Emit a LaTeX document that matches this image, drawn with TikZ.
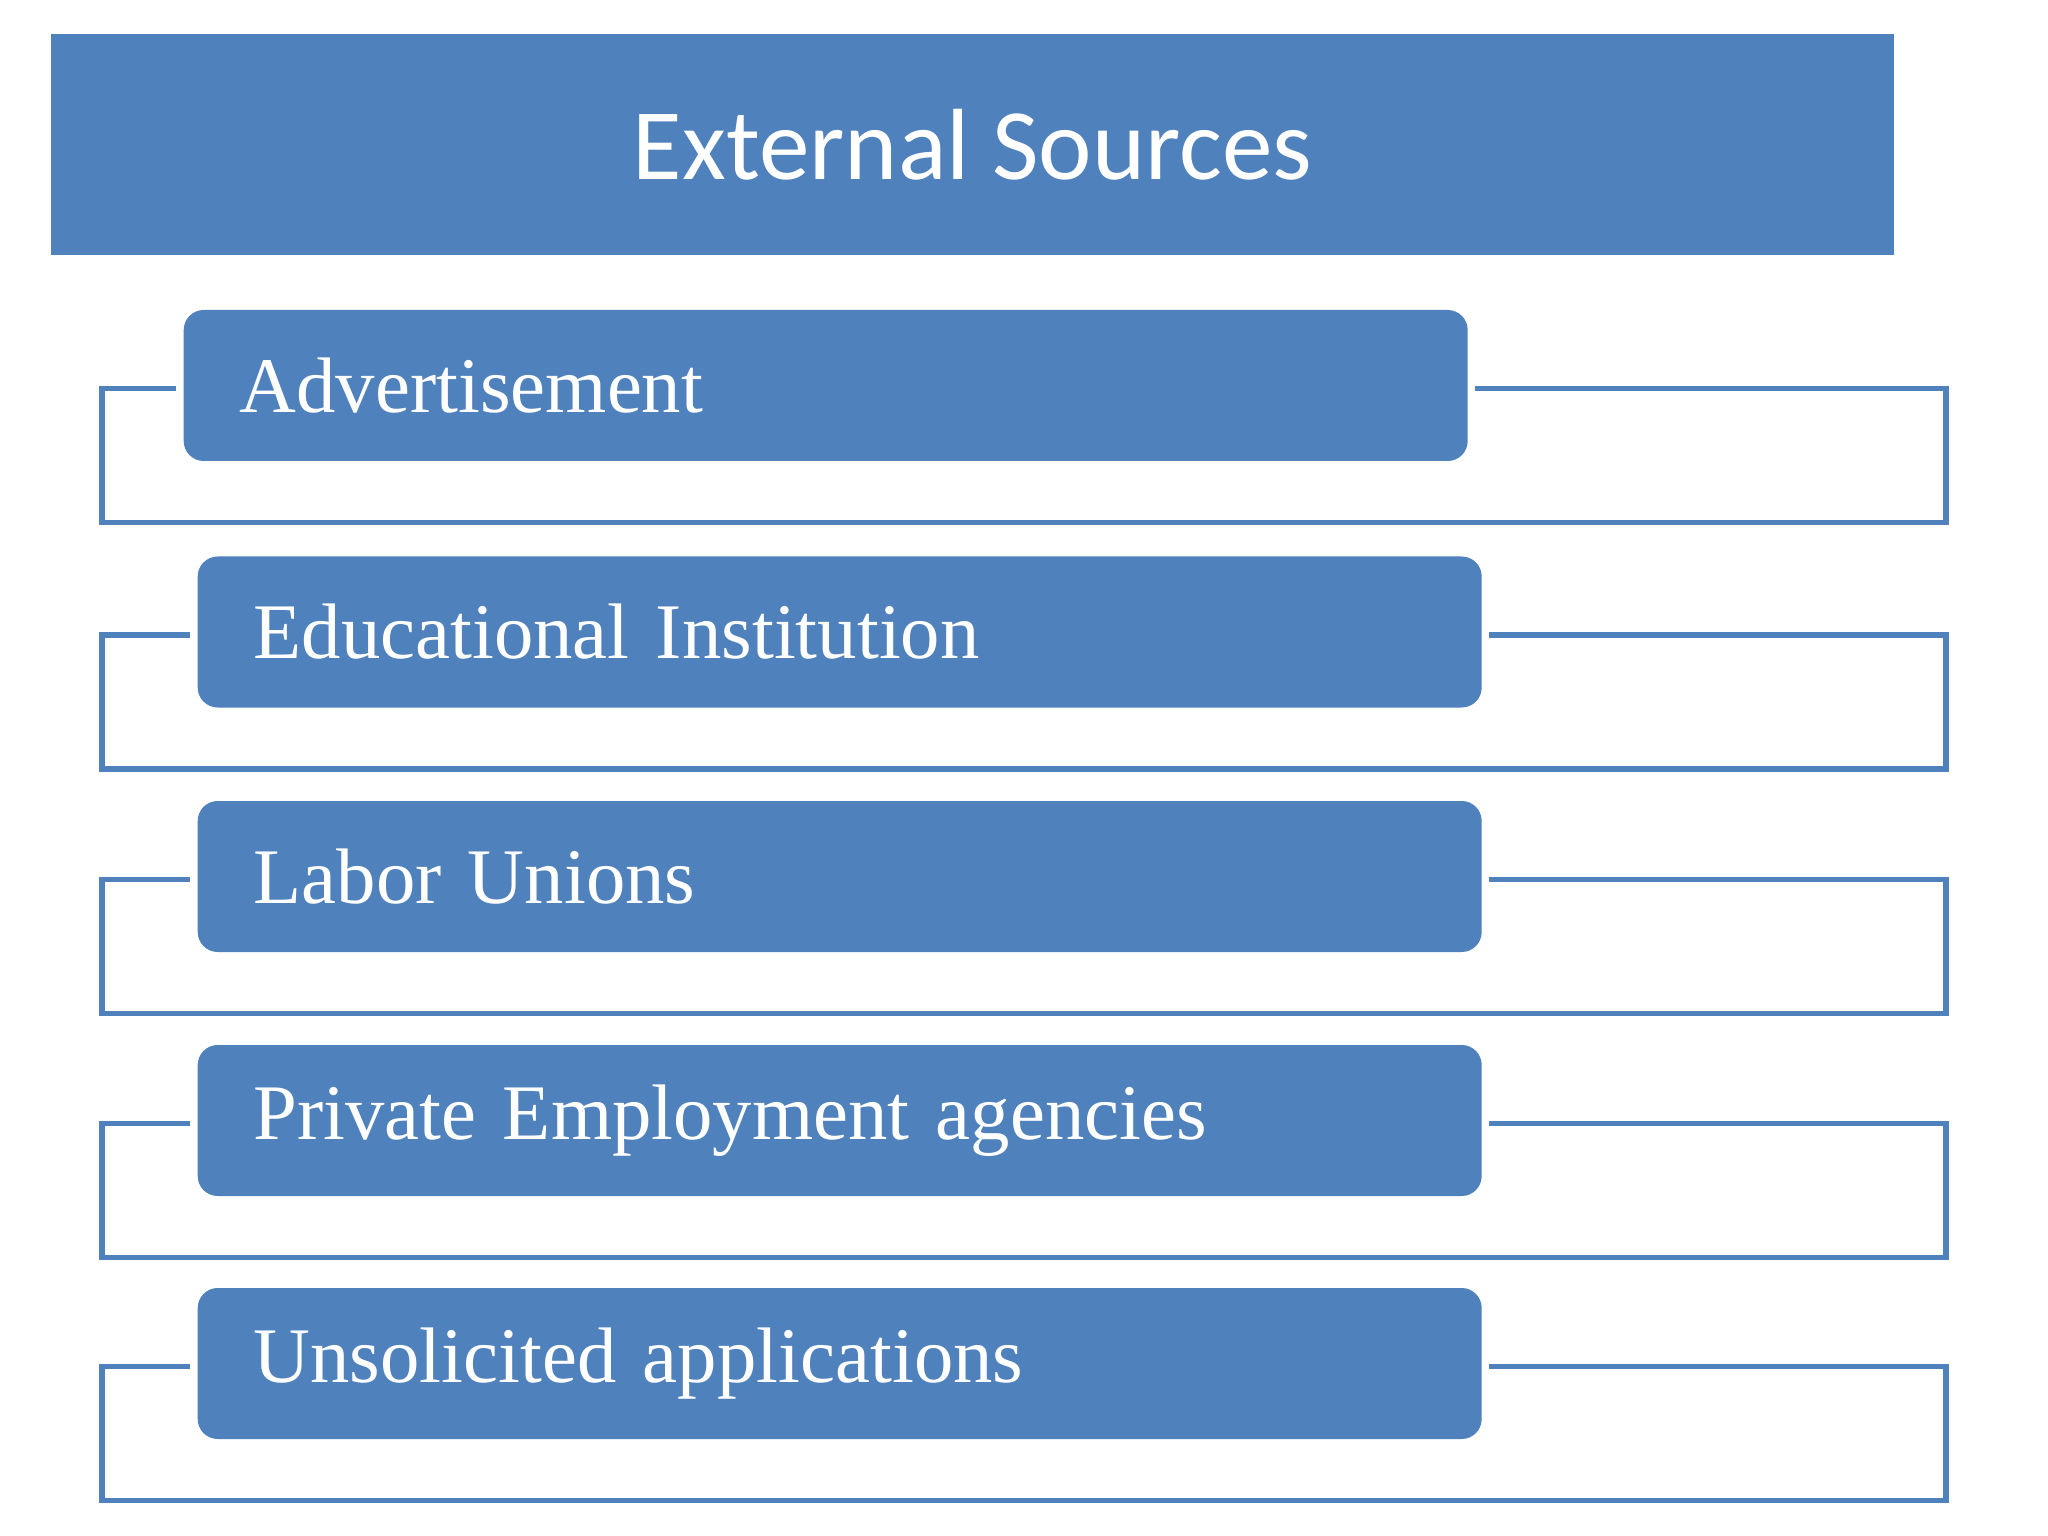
\documentclass[tikz,border=0pt]{standalone}
\usepackage{fontspec}
\setmainfont[WordSpace=0.8]{Liberation Serif}
\newfontfamily\headfont{Carlito}
\usetikzlibrary{calc}
\definecolor{srcblue}{HTML}{4F81BD}

\tikzset{
  headbox/.style={fill=srcblue, text=white, minimum width=18.43cm, minimum height=2.21cm,
    inner sep=0pt, font=\headfont\fontsize{28.8}{34}\selectfont},
  itembox/.style={fill=srcblue, text=white, rounded corners=0.2cm, anchor=west,
    minimum width=12.84cm, minimum height=1.51cm, inner xsep=0.56cm, inner ysep=0pt,
    text width=11.72cm, align=left, font=\fontsize{22.4}{27}\selectfont},
  bracket/.style={draw=srcblue, line width=1.6pt}
}

\begin{document}
\begin{tikzpicture}
    % Page area
    \fill[white] (0,0) rectangle (20.48,-15.36);

    % Title bar
    \node[headbox] (head) at (9.725,-1.445) {External Sources};

    % Outer x positions of the brackets
    \coordinate (lx) at (1.02,0);
    \coordinate (rx) at (19.46,0);

    % Source boxes, each with its bracket
    \foreach \nm/\xx/\yy/\txt in {adv/1.83/-3.855/Advertisement,
        edu/1.97/-6.32/Educational Institution,
        lab/1.97/-8.765/Labor Unions,
        pea/1.97/-11.205/Private Employment agencies,
        uns/1.97/-13.635/Unsolicited applications}
    {
      \node[itembox] (\nm) at (\xx,\yy) {\txt};
      \draw[bracket] ([xshift=-0.07cm,yshift=-0.03cm]\nm.west) -- ($(\nm.west -| lx)+(0,-0.03)$)
        -- ($(\nm.west -| lx)+(0,-1.37)$) -- ($(\nm.east -| rx)+(0,-1.37)$)
        -- ($(\nm.east -| rx)+(0,-0.03)$) -- ([xshift=0.07cm,yshift=-0.03cm]\nm.east);
    }
\end{tikzpicture}
\end{document}
